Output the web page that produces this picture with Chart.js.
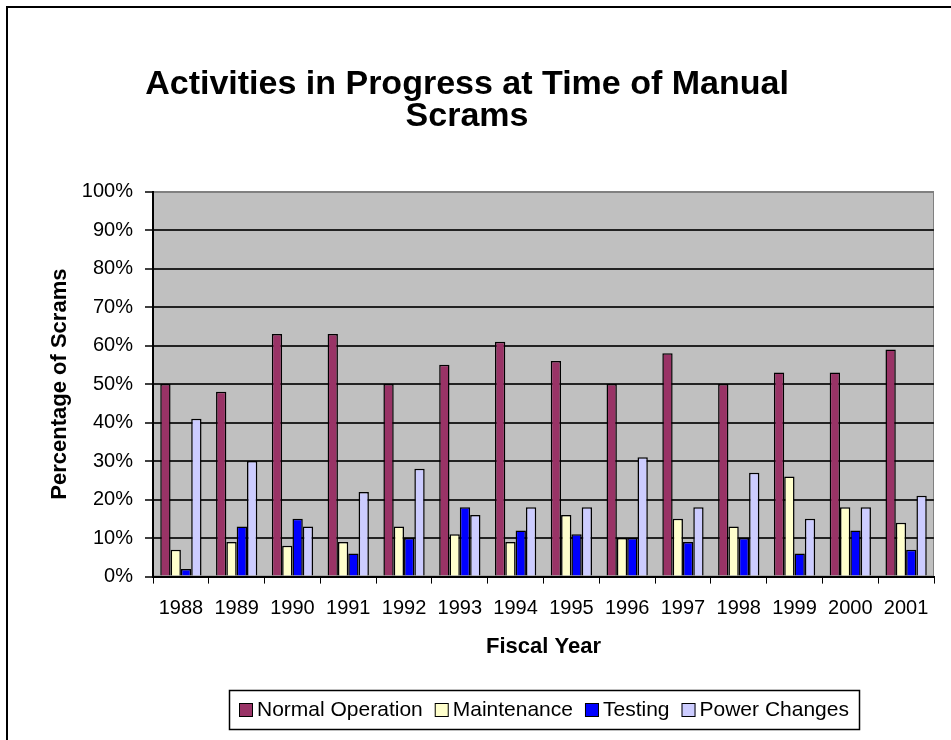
<!DOCTYPE html>
<html>
<head>
<meta charset="utf-8">
<title>Activities in Progress at Time of Manual Scrams</title>
<script src="https://cdn.jsdelivr.net/npm/chart.js@4.4.0/dist/chart.umd.min.js"></script>
<style>
  html, body { margin: 0; padding: 0; background: #fff; }
  #wrap { position: relative; width: 951px; height: 740px; overflow: hidden; }
  #frame { position: absolute; left: 6px; top: 6px; right: -10px; bottom: -10px;
           border-top: 2px solid #000; border-left: 2px solid #000; }
  #myChart { position: absolute; left: 0; top: 0; }
</style>
</head>
<body>
<div id="wrap">
  <div id="frame"></div>
  <canvas id="myChart" width="951" height="740"></canvas>
</div>
<script>
// values (percent of scrams)
const years = ["1988", "1989", "1990", "1991", "1992", "1993", "1994",
  "1995", "1996", "1997", "1998", "1999", "2000", "2001"];
const normalOperation = [50, 48, 63, 63, 50, 55, 61, 56, 50, 58, 50, 53, 53, 59];
const maintenance = [7, 9, 8, 9, 13, 11, 9, 16, 10, 15, 13, 26, 18, 14];
const testing = [2, 13, 15, 6, 10, 18, 12, 11, 10, 9, 10, 6, 12, 7];
const powerChanges = [41, 30, 13, 22, 28, 16, 18, 18, 31, 18, 27, 15, 18, 21];

const seriesNames = ["Normal Operation", "Maintenance", "Testing", "Power Changes"];
const seriesColors = ["#993366", "#FFFFCC", "#0000FF", "#CCCCFF"];

Chart.defaults.font.family = '"Liberation Sans", Arial, sans-serif';
Chart.defaults.color = "#000";

// grey plot background with thin grey frame (Excel style)
const plotBackground = {
  id: "plotBackground",
  beforeDraw(chart) {
    const { ctx, chartArea: a } = chart;
    ctx.save();
    ctx.fillStyle = "#C0C0C0";
    ctx.fillRect(a.left, a.top, a.width, a.height);
    ctx.strokeStyle = "#808080";
    ctx.lineWidth = 1;
    ctx.strokeRect(a.left + 0.5, a.top + 0.5, a.width - 1, a.height - 1);
    ctx.restore();
  },
};

// boxed legend centred under the plot
const boxLegend = {
  id: "boxLegend",
  afterDraw(chart) {
    const ctx = chart.ctx;
    const a = chart.chartArea;
    const swatch = 14, gap = 4, itemGap = 12, padX = 10, boxH = 39;
    ctx.save();
    ctx.font = '21px "Liberation Sans", Arial, sans-serif';
    let items = chart.data.datasets.map((ds) => ({
      text: ds.label,
      color: ds.backgroundColor,
      w: ctx.measureText(ds.label).width,
    }));
    let total = 0;
    items.forEach((it, i) => {
      total += swatch + gap + it.w + (i ? itemGap : 0);
    });
    const cx = (a.left + a.right) / 2;
    const top = Math.round(chart.height - 50);
    const left = Math.round(cx - total / 2 - padX);
    const cy = top + boxH / 2;
    ctx.fillStyle = "#fff";
    ctx.fillRect(left, top, total + 2 * padX, boxH);
    ctx.strokeStyle = "#000";
    ctx.lineWidth = 1.5;
    ctx.strokeRect(left + 0.5, top + 0.5, Math.round(total + 2 * padX), boxH);
    let x = left + padX;
    items.forEach((it) => {
      const sy = Math.round(cy - swatch / 2);
      ctx.fillStyle = it.color;
      ctx.fillRect(x, sy, swatch, swatch);
      ctx.lineWidth = 1;
      ctx.strokeStyle = "#000";
      ctx.strokeRect(x + 0.5, sy + 0.5, swatch - 1, swatch - 1);
      ctx.fillStyle = "#000";
      ctx.textBaseline = "middle";
      ctx.textAlign = "left";
      ctx.fillText(it.text, x + swatch + gap, cy + 1);
      x += swatch + gap + it.w + itemGap;
    });
    ctx.restore();
  },
};

const seriesData = [normalOperation, maintenance, testing, powerChanges];

let ctx1 = document.getElementById("myChart");
new Chart(ctx1, {
  type: "bar",
  data: {
    labels: years,
    datasets: seriesNames.map((name, i) => ({
      label: name,
      data: seriesData[i],
      backgroundColor: seriesColors[i],
      borderColor: "#000",
      borderWidth: 1.5,
      categoryPercentage: 0.74,
      barPercentage: 1.0,
    })),
  },
  options: {
    responsive: false,
    animation: false,
    layout: { padding: { left: 0, right: 17, top: 0, bottom: 80 } },
    plugins: {
      legend: { display: false },
      tooltip: { enabled: false },
      title: {
        display: true,
        text: ["Activities in Progress at Time of Manual", "Scrams"],
        color: "#000",
        font: { size: 34, weight: "bold", lineHeight: 0.95 },
        padding: { top: 68, bottom: 59 },
      },
    },
    scales: {
      x: {
        grid: {
          offset: true,
          drawOnChartArea: false,
          drawTicks: true,
          tickLength: 7,
          color: "#000",
          lineWidth: 1,
        },
        border: { color: "#000", width: 2 },
        ticks: { color: "#000", font: { size: 20 }, padding: 13, maxRotation: 0, autoSkip: false },
        title: {
          display: true,
          text: "Fiscal Year",
          color: "#000",
          font: { size: 22, weight: "bold" },
          padding: { top: 0, bottom: 0 },
        },
      },
      y: {
        min: 0,
        max: 100,
        ticks: {
          stepSize: 10,
          color: "#000",
          font: { size: 20 },
          padding: 12,
          callback: (v) => v + "%",
        },
        grid: {
          color: (c) => (c.tick && c.tick.value === 100 ? "#808080" : "#222"),
          lineWidth: 2,
          tickLength: 8,
          tickColor: "#000",
          tickWidth: 1.5,
        },
        border: { color: "#000", width: 2 },
        title: {
          display: true,
          text: "Percentage of Scrams",
          color: "#000",
          font: { size: 22, weight: "bold" },
          padding: { top: 47, bottom: 0 },
        },
        afterFit: (scale) => {
          scale.width = 153;
        },
      },
    },
  },
  plugins: [plotBackground, boxLegend],
});
</script>
</body>
</html>
